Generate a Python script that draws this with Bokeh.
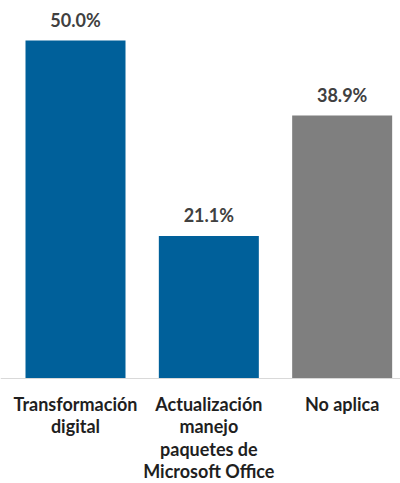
from bokeh.plotting import figure
from bokeh.models import ColumnDataSource, Range1d, Span
from bokeh.core.properties import value
from bokeh.embed import file_html
from bokeh.resources import INLINE

categories = ["Transformación\ndigital", "Actualización\nmanejo\npaquetes de\nMicrosoft Office", "No aplica"]
values = [50.0, 21.1, 38.9]
colors = ["#00609A", "#00609A", "#7F7F7F"]
labels = ["50.0%", "21.1%", "38.9%"]

x = list(range(len(categories)))
src = ColumnDataSource(dict(x=x, top=values, color=colors, lab=labels, cat=categories,
                            zero=[0] * len(x)))

p = figure(width=400, height=483, output_backend="svg", toolbar_location=None,
           x_range=Range1d(-0.5625, 2.4375), y_range=Range1d(-15.53, 55.92),
           min_border=0, outline_line_color=None)
p.axis.visible = False
p.grid.visible = False
p.background_fill_color = "white"
p.border_fill_color = "white"

p.vbar(x="x", top="top", bottom=0, width=0.75, color="color", source=src, line_color=None)
p.add_layout(Span(location=0, dimension="width", line_color="#D9D9D9", line_width=1))

p.text(x="x", y="top", text="lab", source=src, text_align="center", text_baseline="bottom",
       y_offset=-10, text_font=value("Lato"), text_font_style="bold",
       text_font_size="18px", text_color="#404040")

p.text(x="x", y="zero", text="cat", source=src, text_align="center", text_baseline="top",
       y_offset=14, text_font=value("Lato"), text_font_style="bold",
       text_font_size="18px", text_color="#1F1F1F", text_line_height=1.03)

open("out.html", "w").write(file_html(p, INLINE))
